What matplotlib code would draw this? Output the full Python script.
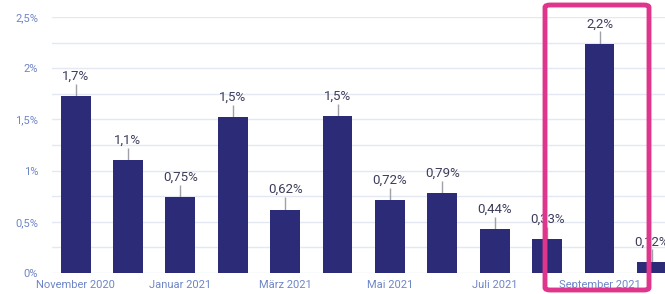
import matplotlib.pyplot as plt
from matplotlib.patches import FancyBboxPatch
import numpy as np

plt.rcParams['font.family'] = ['Roboto', 'DejaVu Sans']

# data
months = ["November 2020", "Dezember 2020", "Januar 2021", "Februar 2021", "März 2021",
          "April 2021", "Mai 2021", "Juni 2021", "Juli 2021", "August 2021",
          "September 2021", "Oktober 2021"]
values = [1.73, 1.10, 0.74, 1.52, 0.62, 1.53, 0.71, 0.78, 0.43, 0.33, 2.24, 0.11]
labels = ["1,7%", "1,1%", "0,75%", "1,5%", "0,62%", "1,5%", "0,72%", "0,79%",
          "0,44%", "0,33%", "2,2%", "0,12%"]
ytick_vals = [0, 0.5, 1, 1.5, 2, 2.5]
ytick_labels = ["0%", "0,5%", "1%", "1,5%", "2%", "2,5%"]

bar_color = "#2c2b78"
tick_color = "#6f86c6"
text_color = "#3d3d5c"
grid_color = "#e4e8f3"

fig = plt.figure(figsize=(6.65, 2.94), dpi=100)
ax = fig.add_axes([52 / 665, 21 / 294, 613 / 665, 256 / 294])

x = np.arange(len(values))
ax.bar(x, values, width=0.57, color=bar_color, zorder=3)

# leader lines + value labels
for xi, v, lab in zip(x, values, labels):
    ax.vlines(xi, v, v + 0.12, color="#a0a0a8", linewidth=1, zorder=2)
    ax.text(xi, v + 0.13, lab, ha="center", va="bottom", fontsize=9.5,
            color=text_color, zorder=4)

ax.set_xlim(-0.45, 11.25)
ax.set_ylim(0, 2.5)
ax.set_yticks(ytick_vals)
ax.set_yticklabels(ytick_labels)
ax.set_yticks(np.arange(0.25, 2.5, 0.5), minor=True)
ax.set_xticks(x[::2])
ax.set_xticklabels(months[::2])
ax.tick_params(axis="both", which="both", length=0, colors=tick_color, labelsize=8)
ax.tick_params(axis="y", pad=10)
ax.tick_params(axis="x", pad=5)
ax.grid(axis="y", which="both", color=grid_color, linewidth=1, zorder=0)
for s in ax.spines.values():
    s.set_visible(False)

# highlight frame
frame = FancyBboxPatch((545 / 665, 4 / 294), 104 / 665, 285 / 294,
                       boxstyle="round,pad=0,rounding_size=0.008",
                       transform=fig.transFigure, fill=False,
                       edgecolor="#e0358c", linewidth=3.5, zorder=10)
fig.patches.append(frame)

fig.savefig("out.png", dpi=100)
